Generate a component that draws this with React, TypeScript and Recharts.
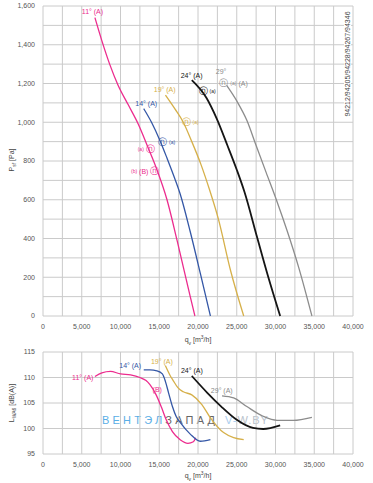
import React from "react";
import { LineChart, Line, XAxis, YAxis, CartesianGrid, ReferenceDot } from "recharts";

const FONT = '"Liberation Sans", Arial, Helvetica, sans-serif';
const PINK = "#ec2c8e";
const BLUE = "#3457a6";
const GOLD = "#d6b04a";
const BLACK = "#151515";
const GRAY = "#8c8c8c";

const flowTicks = [0, 2500, 5000, 7500, 10000, 12500, 15000, 17500, 20000, 22500, 25000, 27500, 30000, 32500, 35000, 37500, 40000];
const pressureTicks = [0, 100, 200, 300, 400, 500, 600, 700, 800, 900, 1000, 1100, 1200, 1300, 1400, 1500, 1600];
const soundTicks = [95, 100, 105, 110, 115];

// pressure curves, q [m3/h] -> Psf [Pa]
const q11 = [6700, 7600, 8600, 9700, 11000, 12300, 13600, 14700, 16000, 17300, 19000, 19600];
const p11 = [1540, 1420, 1300, 1190, 1090, 990, 865, 755, 600, 390, 100, 0];
const q14 = [13000, 14000, 15100, 16000, 17000, 17700, 19000, 20300, 21600];
const p14 = [1070, 1000, 905, 815, 710, 630, 435, 220, 0];
const q19 = [15800, 17000, 18100, 19200, 20400, 21500, 22600, 24200, 25900];
const p19 = [1140, 1070, 1000, 900, 780, 650, 505, 235, 0];
const q24 = [19200, 21100, 22400, 23800, 25000, 26000, 27600, 29000, 30600];
const p24 = [1217, 1125, 1020, 880, 755, 640, 410, 210, 0];
const q29 = [23700, 25000, 26300, 27500, 28800, 30200, 31500, 33000, 34700];
const p29 = [1190, 1110, 1010, 880, 740, 590, 440, 250, 0];

// sound power curves, q [m3/h] -> LWA6 [dB(A)]
const sq11 = [6700, 7600, 8700, 10000, 11300, 12500, 13300, 13800, 14600, 15300, 15900, 16700, 17700, 18700, 19400, 19700];
const sl11 = [110.2, 110.9, 111.2, 110.7, 110.5, 110, 109.4, 108.6, 106.6, 104.1, 101.7, 99.4, 97.8, 97.1, 97.4, 98.2];
const sq14 = [13000, 13800, 14700, 15400, 15800, 16200, 16700, 17200, 17700, 19000, 20300, 21600];
const sl14 = [111.5, 111.5, 111.3, 110.7, 109.2, 107, 104.3, 102.3, 101.2, 98.9, 97.5, 97.8];
const sq19 = [15800, 16400, 16800, 17400, 18100, 19200, 20500, 21600, 23300, 24600, 25900];
const sl19 = [112.3, 110.4, 109.4, 108, 107.2, 106.6, 104.7, 102.1, 99.2, 98.2, 97.8];
const sq24 = [19200, 21200, 23000, 25000, 27100, 28400, 30600];
const sl24 = [110.3, 107, 104.3, 101.7, 100.1, 99.9, 100.6];
const sq29 = [23100, 24600, 26300, 28400, 30200, 32300, 34700];
const sl29 = [106.4, 106, 104.3, 102.4, 101.6, 101.6, 102.2];

const toPoints = (q: number[], v: number[]) => q.map((x, i) => ({ q: x, v: v[i] }));

const pressureSeries = [
  { id: "p11", color: PINK, width: 1.3, data: toPoints(q11, p11) },
  { id: "p14", color: BLUE, width: 1.3, data: toPoints(q14, p14) },
  { id: "p19", color: GOLD, width: 1.3, data: toPoints(q19, p19) },
  { id: "p24", color: BLACK, width: 1.8, data: toPoints(q24, p24) },
  { id: "p29", color: GRAY, width: 1.3, data: toPoints(q29, p29) },
];

const soundSeries = [
  { id: "s11", color: PINK, width: 1.3, data: toPoints(sq11, sl11) },
  { id: "s14", color: BLUE, width: 1.3, data: toPoints(sq14, sl14) },
  { id: "s19", color: GOLD, width: 1.3, data: toPoints(sq19, sl19) },
  { id: "s24", color: BLACK, width: 1.8, data: toPoints(sq24, sl24) },
  { id: "s29", color: GRAY, width: 1.3, data: toPoints(sq29, sl29) },
];

// curve labels, anchored in data units; "@" is drawn as a circled marker
const pressureLabels = [
  { text: "11° (A)", q: 6380, v: 1573, color: PINK },
  { text: "14° (A)", q: 13320, v: 1098, color: BLUE },
  { text: "19° (A)", q: 15700, v: 1174, color: GOLD },
  { text: "24° (A)", q: 19180, v: 1246, color: BLACK },
  { text: "29°", q: 22980, v: 1262, color: GRAY },
  { text: "@ (a) (A)", q: 24590, v: 1205, color: GRAY },
  { text: "@ (a)", q: 21180, v: 1160, color: BLACK },
  { text: "@ (a)", q: 18990, v: 1000, color: GOLD },
  { text: "@ (a)", q: 15960, v: 896, color: BLUE },
  { text: "(a) @", q: 13320, v: 861, color: PINK },
  { text: "(b) (B) @", q: 13190, v: 749, color: PINK },
];

const soundLabels = [
  { text: "11° (A)", q: 5130, v: 110.1, color: PINK },
  { text: "14° (A)", q: 11250, v: 112.5, color: BLUE },
  { text: "(B)", q: 14740, v: 107.7, color: PINK },
  { text: "19° (A)", q: 15340, v: 113.3, color: GOLD },
  { text: "24° (A)", q: 19210, v: 111.5, color: BLACK },
  { text: "29° (A)", q: 23070, v: 107.6, color: GRAY },
];

const fmtFlow = (v: number) => (v % 5000 === 0 ? v.toLocaleString("en-US") : "");
const fmtPressure = (v: number) => (v % 200 === 0 ? v.toLocaleString("en-US") : "");

const tickStyle = { fontSize: 7, fill: "#555", fontFamily: FONT };

function CurveLabel({ cx, cy, text, color }: any) {
  const parts = text.split(/(@|\(a\)|\(b\))/).filter((s: string) => s !== "");
  return (
    <text x={cx} y={cy} textAnchor="middle" dominantBaseline="central" fill={color} fontFamily={FONT} fontSize={7}>
      {parts.map((p: string, i: number) =>
        p === "@" ? (
          <tspan key={i} fontSize={8.5}>ⓝ</tspan>
        ) : p === "(a)" || p === "(b)" ? (
          <tspan key={i} fontSize={5}>{p}</tspan>
        ) : (
          <tspan key={i}>{p}</tspan>
        )
      )}
    </text>
  );
}

function labelDots(labels: typeof soundLabels) {
  return labels.map((l, i) => (
    <ReferenceDot
      key={"l" + i}
      x={l.q}
      y={l.v}
      r={0}
      ifOverflow="visible"
      shape={(p: any) => <CurveLabel cx={p.cx} cy={p.cy} text={l.text} color={l.color} />}
    />
  ));
}

const abs = (left: number, top: number, extra: React.CSSProperties = {}): React.CSSProperties => ({
  position: "absolute",
  left,
  top,
  fontFamily: FONT,
  fontSize: 7,
  color: "#444",
  whiteSpace: "nowrap",
  ...extra,
});

function RotTitle({ cx, cy, children, bg }: { cx: number; cy: number; children: React.ReactNode; bg?: string }) {
  return (
    <div
      style={abs(cx - 60, cy - 5, {
        width: 120,
        height: 10,
        lineHeight: "10px",
        textAlign: "center",
        transform: "rotate(-90deg)",
      })}
    >
      <span style={{ background: bg }}>{children}</span>
    </div>
  );
}

export default function App() {
  return (
    <div style={{ position: "absolute", left: 0, top: 0, width: 373, height: 483, background: "#fff" }}>
      {/* watermark sits under the lower chart */}
      <div style={abs(102, 413, { fontSize: 11, letterSpacing: 3.2, lineHeight: "14px" })}>
        <span style={{ color: "#5aaee6" }}>ВЕНТЭЛ</span>
        <span style={{ color: "#666" }}>ЗАПАД</span>
      </div>
      <div style={abs(225, 413, { fontSize: 11, letterSpacing: 1, lineHeight: "14px", color: "#b8c2cc" })}>
        <span style={{ color: "#a9cdee" }}>V-</span>W.BY
      </div>

      <div style={{ position: "absolute", left: 0, top: 0 }}>
        <LineChart width={373} height={345} margin={{ top: 6, right: 20, bottom: 0, left: 0 }}>
          <CartesianGrid stroke="#cacaca" strokeWidth={1} />
          <XAxis
            dataKey="q"
            type="number"
            domain={[0, 40000]}
            ticks={flowTicks}
            interval={0}
            tickFormatter={fmtFlow}
            axisLine={false}
            tickLine={false}
            height={29}
            tick={tickStyle}
          />
          <YAxis
            type="number"
            domain={[0, 1600]}
            ticks={pressureTicks}
            interval={0}
            tickFormatter={fmtPressure}
            axisLine={false}
            tickLine={false}
            width={43}
            tick={tickStyle}
          />
          {pressureSeries.map((s) => (
            <Line
              key={s.id}
              data={s.data}
              dataKey="v"
              type="monotone"
              stroke={s.color}
              strokeWidth={s.width}
              dot={false}
              isAnimationActive={false}
            />
          ))}
          {labelDots(pressureLabels)}
        </LineChart>
      </div>

      <div style={{ position: "absolute", left: 0, top: 345 }}>
        <LineChart width={373} height={138} margin={{ top: 7, right: 20, bottom: 0, left: 0 }}>
          <CartesianGrid stroke="#cacaca" strokeWidth={1} />
          <XAxis
            dataKey="q"
            type="number"
            domain={[0, 40000]}
            ticks={flowTicks}
            interval={0}
            tickFormatter={fmtFlow}
            axisLine={false}
            tickLine={false}
            height={29}
            tick={tickStyle}
          />
          <YAxis
            type="number"
            domain={[95, 115]}
            ticks={soundTicks}
            interval={0}
            axisLine={false}
            tickLine={false}
            width={43}
            tick={tickStyle}
          />
          {soundSeries.map((s) => (
            <Line
              key={s.id}
              data={s.data}
              dataKey="v"
              type="monotone"
              stroke={s.color}
              strokeWidth={s.width}
              dot={false}
              isAnimationActive={false}
            />
          ))}
          {labelDots(soundLabels)}
        </LineChart>
      </div>

      {/* axis titles */}
      <RotTitle cx={12} cy={160}>
        P<sub style={{ fontSize: 5 }}>sf</sub> [Pa]
      </RotTitle>
      <RotTitle cx={12} cy={403}>
        L<sub style={{ fontSize: 5 }}>WA6</sub> [dB(A)]
      </RotTitle>
      <div style={abs(138, 332, { width: 120, textAlign: "center", lineHeight: "10px" })}>
        q<sub style={{ fontSize: 5 }}>v</sub> [m<sup style={{ fontSize: 5 }}>3</sup>/h]
      </div>
      <div style={abs(138, 468, { width: 120, textAlign: "center", lineHeight: "10px" })}>
        q<sub style={{ fontSize: 5 }}>v</sub> [m<sup style={{ fontSize: 5 }}>3</sup>/h]
      </div>
      <RotTitle cx={348} cy={64} bg="#fff">
        94212/94205/94228/94267/94346
      </RotTitle>
    </div>
  );
}
